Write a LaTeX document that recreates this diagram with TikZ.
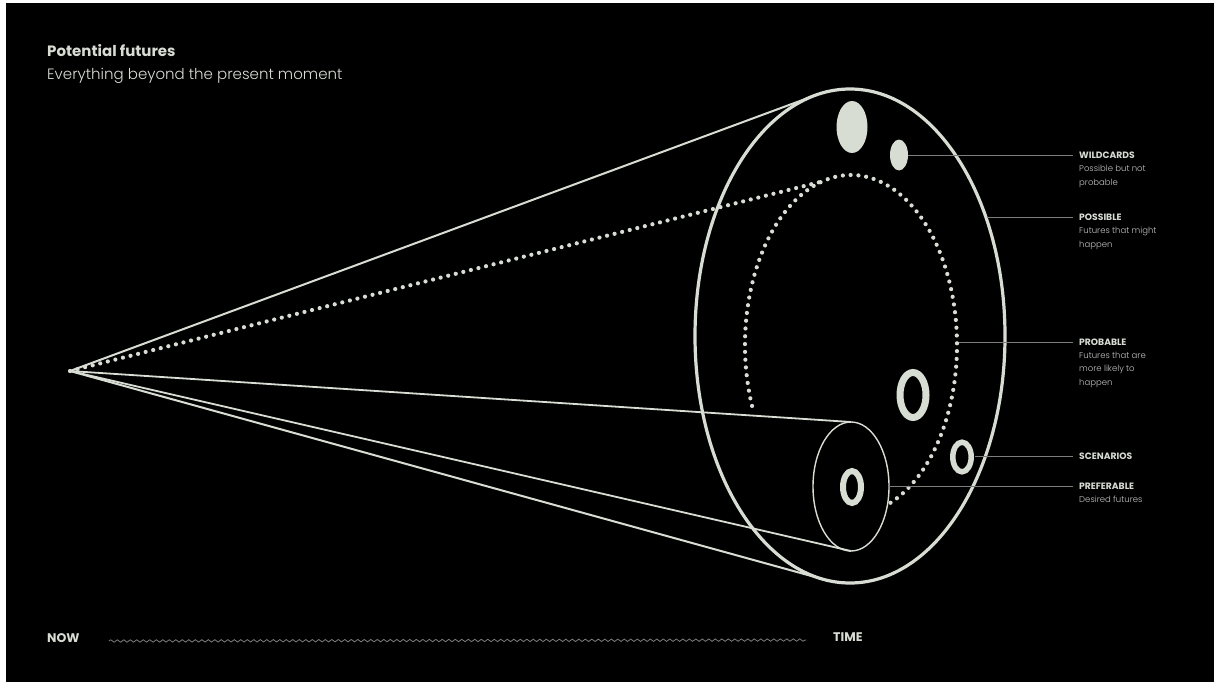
\documentclass[tikz,border=0pt]{standalone}
\usepackage{fontspec}
\setmainfont{Poppins}
\newfontfamily\lightfont{Poppins Light}
\usetikzlibrary{positioning,shapes.geometric,decorations.pathmorphing}
\definecolor{chalk}{RGB}{216,221,212}
\definecolor{leadgray}{RGB}{125,125,125}
\definecolor{descgray}{RGB}{196,196,196}

\begin{document}
\begin{tikzpicture}[x=1pt, y=-1pt,
  outline/.style={draw=chalk, line width=2pt},
  face/.style={ellipse, draw=chalk, inner sep=0pt, outer sep=0pt},
  dots/.style={draw=chalk, line width=4.2pt, line cap=round, dash pattern=on 0pt off 7.8pt},
  leader/.style={draw=leadgray, line width=0.8pt},
  tag/.style={anchor=west, inner sep=0pt, text=chalk, font=\fontsize{9.2}{10}\selectfont\bfseries},
  note/.style={anchor=north west, inner sep=0pt, align=left, text=descgray, font=\lightfont\fontsize{8.5}{13.5}\selectfont},
  wave/.style={draw=leadgray, line width=0.8pt, decorate, decoration={snake, segment length=6.5pt, amplitude=1.2pt}}]

  \fill[white] (0,0) rectangle (1214,682);
  \fill[black] (6,3) rectangle (1214,682);

  \node[anchor=base west, inner sep=0pt, text=chalk, font=\fontsize{15}{17}\selectfont\bfseries] (title) at (47,57) {Potential futures};
  \node[anchor=base west, inner sep=0pt, text=chalk, font=\lightfont\fontsize{15}{18}\selectfont] (subtitle) at (47,80) {Everything beyond the present moment};

  \coordinate (apex) at (70,371);
  \node[face, line width=3.2pt, minimum width=310, minimum height=494] (future) at (850,336) {};
  \node[face, line width=1.4pt, minimum width=76, minimum height=129] (cyl) at (851,486.5) {};
  \coordinate (arcc) at (851,345);
  \path (arcc) ++(-106:106 and 170) coordinate (join);

  \draw[outline] (apex) -- (future.98);
  \draw[outline] (apex) -- (future.264);
  \draw[outline, line width=1.8pt] (apex) -- (cyl.north);
  \draw[outline, line width=1.8pt] (apex) -- (cyl.south);
  \draw[dots] (apex) -- (join);
  \draw[dots] (arcc) ++(-201:106 and 170) arc[start angle=-201, end angle=70, x radius=106, y radius=170];

  \fill[chalk] (852,127) ellipse[x radius=15.5, y radius=26];
  \fill[chalk] (899,155) ellipse[x radius=9, y radius=15.5];
  \draw[chalk, line width=7pt] (913,395) ellipse[x radius=13, y radius=22.5];
  \draw[chalk, line width=5.5pt] (962,457) ellipse[x radius=9.2, y radius=14.8];
  \draw[chalk, line width=6pt] (852,487) ellipse[x radius=9, y radius=16];

  \node[tag] (wildcards) at (1079,155) {WILDCARDS};
  \node[note] (wildcards-note) at (1079,165) {Possible but not\\probable};
  \node[tag] (possible) at (1079,217) {POSSIBLE};
  \node[note] (possible-note) at (1079,227) {Futures that might\\happen};
  \node[tag] (probable) at (1079,342) {PROBABLE};
  \node[note] (probable-note) at (1079,352) {Futures that are\\more likely to\\happen};
  \node[tag] (scenarios) at (1079,456) {SCENARIOS};
  \node[tag] (preferable) at (1079,486) {PREFERABLE};
  \node[note] (preferable-note) at (1079,496) {Desired futures};

  \coordinate (wildcards-tip) at (908,155);
  \coordinate (possible-tip) at (987,217);
  \coordinate (probable-tip) at (959,342);
  \coordinate (scenarios-tip) at (975,456);
  \draw[leader] (wildcards-tip) -- ([xshift=-6pt]wildcards.west);
  \draw[leader] (possible-tip) -- ([xshift=-6pt]possible.west);
  \draw[leader] (probable-tip) -- ([xshift=-6pt]probable.west);
  \draw[leader] (scenarios-tip) -- ([xshift=-6pt]scenarios.west);
  \draw[leader] (cyl.east) -- ([xshift=-6pt]preferable.west |- cyl.east);

  \node[anchor=west, inner sep=0pt, text=chalk, font=\fontsize{12.5}{14}\selectfont\bfseries] (now) at (47,638) {NOW};
  \node[anchor=west, inner sep=0pt, text=chalk, font=\fontsize{12.5}{14}\selectfont\bfseries] (time) at (833,637) {TIME};
  \draw[wave] ([xshift=29pt, yshift=-3pt]now.east) -- ([xshift=-27pt, yshift=-3pt]time.west);
\end{tikzpicture}
\end{document}
